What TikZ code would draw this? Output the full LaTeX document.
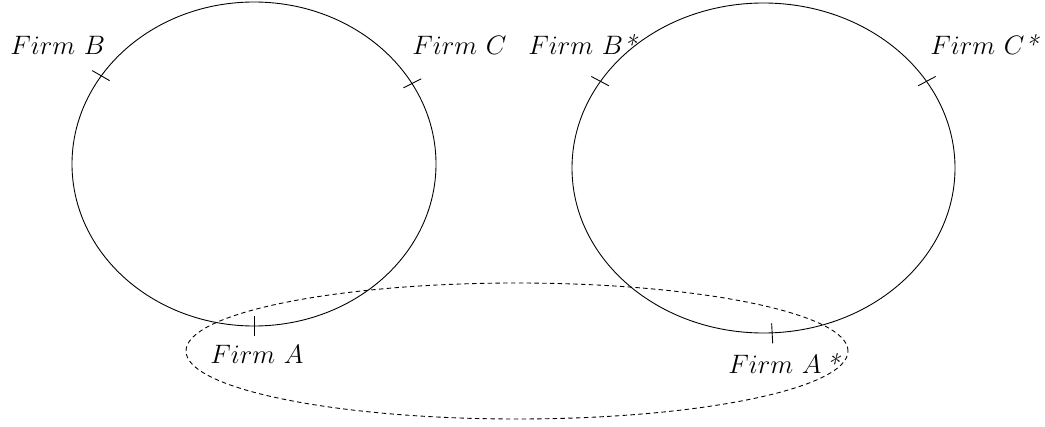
\documentclass[tikz,border=0pt]{standalone}
\usetikzlibrary{shapes.geometric, calc}

\begin{document}
\begin{tikzpicture}[x=0.45pt, y=-0.45pt, font=\large,
    market/.style={draw, ellipse, inner sep=0pt},
    firm/.style={anchor=base west, inner sep=0pt}]

    \useasboundingbox (0,0) rectangle (1045,427);

    % the two markets
    \node[market, minimum width=163.8pt, minimum height=145.8pt] (home) at (254,164) {};
    \node[market, minimum width=172.35pt, minimum height=148.5pt] (foreign) at (763.5,168) {};
    \node[market, dash pattern=on 2pt off 1.5pt, minimum width=297.9pt, minimum height=61.2pt] (merge) at (517,351) {};

    % firm locations
    \foreach \m/\a in {home/150, home/27, home/270, foreign/152, foreign/28, foreign/273}
        \draw ($(\m.\a)!4.5pt!(\m.center)$) -- ($(\m.\a)!-4.5pt!(\m.center)$);

    \node[firm] (fb) at (10,55) {$Firm\ B$};
    \node[firm] (fc) at (412,55) {$Firm\ C$};
    \node[firm] (fa) at (210,363) {$Firm\ A$};
    \node[firm] (fbs) at (528,55) {$Firm\ B$\textit{*}};
    \node[firm] (fcs) at (930,55) {$Firm\ C$\textit{*}};
    \node[firm] (fas) at (728,373) {$Firm\ A$\,\textit{*}};

\end{tikzpicture}
\end{document}
